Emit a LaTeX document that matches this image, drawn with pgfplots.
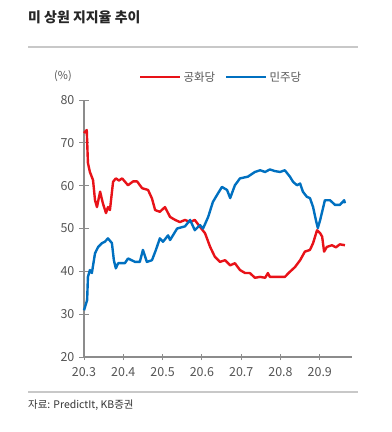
\documentclass[border=0pt]{standalone}
\usepackage{fontspec}
\setmainfont{Noto Sans CJK KR}
\usepackage{pgfplots}
\pgfplotsset{compat=1.18}
\definecolor{rep}{RGB}{232,18,24}
\definecolor{dem}{RGB}{0,112,192}
\definecolor{axgray}{RGB}{140,140,140}
\definecolor{txtgray}{RGB}{85,85,85}
\definecolor{rulegray}{RGB}{200,200,200}
\begin{document}
\begin{tikzpicture}[x=1bp,y=1bp]
\useasboundingbox (0,0) rectangle (392,432);
% title and rules
\node[anchor=west,inner sep=0pt,font=\fontsize{14}{16}\selectfont\bfseries,text=black!85] at (28,415) {미 상원 지지율 추이};
\draw[rulegray,line width=2bp] (28,385) -- (358,385);
\draw[rulegray,line width=1.5bp] (28,40) -- (358,40);
\node[anchor=west,inner sep=0pt,font=\fontsize{10.5}{12}\selectfont,text=black!80] at (28,27) {자료: PredictIt, KB증권};
\node[inner sep=0pt,font=\fontsize{11}{13}\selectfont,text=txtgray] at (63,356) {(\%)};
\begin{axis}[
  at={(84bp,75bp)}, anchor=south west,
  scale only axis, width=268bp, height=257bp,
  xmin=0, xmax=6.82, ymin=20, ymax=80,
  axis x line=bottom, axis y line=left,
  axis line style={-, axgray, line width=1.1bp},
  xtick={0,1,2,3,4,5,6},
  xticklabels={20.3,20.4,20.5,20.6,20.7,20.8,20.9},
  ytick={20,30,40,50,60,70,80},
  tick style={axgray, line width=1bp},
  x tick style={/pgfplots/major tick length=6bp},
  y tick style={/pgfplots/major tick length=9bp},
  tick align=center,
  ticklabel style={font=\fontsize{12.5}{14}\selectfont, text=txtgray},
  /pgf/number format/assume math mode=true,
  xticklabel style={yshift=-5bp},
  yticklabel style={xshift=-4bp},
  legend style={at={(0.205,1.089)}, anchor=west, draw=none, fill=none,
    font=\fontsize{11.5}{13}\selectfont, text=txtgray,
    legend cell align=left, inner sep=0pt,
    /tikz/every even column/.append style={column sep=8bp}},
  legend columns=2,
  legend image code/.code={\draw[#1] (0bp,0bp) -- (40bp,0bp);},
  clip=false,
]
\addplot[rep, line width=2.4bp, line join=round] coordinates {
(0.00,72.3)(0.07,73)(0.10,65.3)(0.15,63.2)(0.23,61.3)(0.28,56.6)(0.33,55)(0.41,58.6)
(0.48,55.9)(0.56,53.6)(0.61,55)(0.66,54.3)(0.74,60.9)(0.81,61.7)(0.89,61.2)(0.97,61.7)
(1.12,60.1)(1.25,61)(1.35,61)(1.48,59.4)(1.63,59)(1.73,57)(1.81,54.3)(1.93,53.9)
(2.06,55)(2.19,52.7)(2.32,52)(2.44,51.5)(2.57,52)(2.70,51.5)(2.82,52)(2.95,50.4)
(3.08,48.9)(3.21,45.7)(3.33,43.4)(3.46,42.2)(3.59,42.6)(3.72,41.4)(3.84,41.9)(3.97,40.3)
(4.10,39.6)(4.22,39.6)(4.35,38.5)(4.48,38.7)(4.61,38.5)(4.68,39.6)(4.73,38.7)(4.86,38.7)
(4.99,38.7)(5.11,38.7)(5.24,39.9)(5.37,41)(5.50,42.6)(5.62,44.6)(5.75,45)(5.83,46.6)
(5.93,49.6)(6.01,48.9)(6.06,48.1)(6.11,44.6)(6.18,45.7)(6.31,46.1)(6.41,45.6)(6.51,46.3)(6.64,46.1)
};
\addlegendentry{공화당}
\addplot[dem, line width=2.4bp, line join=round] coordinates {
(0.00,30.9)(0.08,33.3)(0.10,38.7)(0.15,40.3)(0.20,39.6)(0.28,44.2)(0.36,45.7)(0.46,46.6)
(0.53,46.9)(0.61,47.7)(0.71,46.6)(0.76,42.6)(0.81,40.7)(0.87,41.9)(1.04,41.9)(1.12,43)
(1.30,42.2)(1.42,42.2)(1.50,45)(1.60,42.2)(1.73,42.6)(1.83,45)(1.93,47.7)(2.01,46.9)
(2.14,48.4)(2.19,47.3)(2.37,50)(2.57,50.5)(2.70,52)(2.82,49.6)(2.95,50.8)(3.03,50)
(3.16,52.7)(3.28,56.2)(3.41,58.2)(3.51,59.7)(3.64,59)(3.72,57.1)(3.84,60.1)(3.97,61.7)
(4.17,62.1)(4.35,63.2)(4.48,63.6)(4.61,63.2)(4.73,63.8)(4.86,63.4)(4.99,63.2)(5.11,63.6)
(5.24,62.1)(5.32,60.9)(5.42,60.1)(5.50,60.5)(5.57,58.6)(5.67,57.4)(5.75,57.1)(5.83,55)
(5.90,52)(5.95,50.1)(6.01,52)(6.06,53.9)(6.13,56.6)(6.26,56.6)(6.39,55.5)(6.51,55.5)(6.62,56.6)(6.64,55.9)
};
\addlegendentry{민주당}
\end{axis}
\end{tikzpicture}
\end{document}
